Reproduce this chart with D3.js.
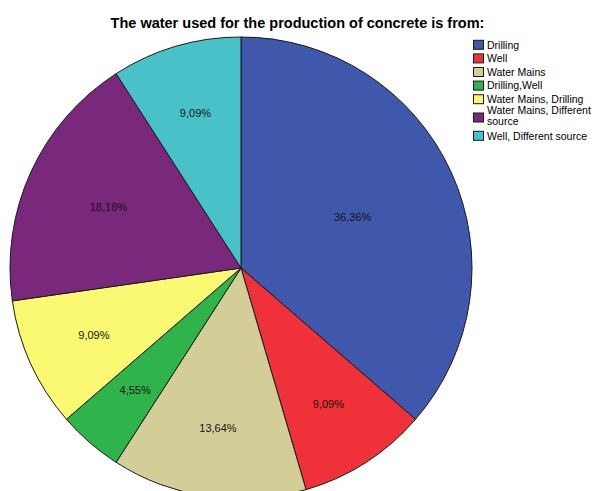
<!DOCTYPE html>
<html>
<head>
<meta charset="utf-8">
<script src="https://cdn.jsdelivr.net/npm/d3@7/dist/d3.min.js"></script>
<style>
  html, body { margin: 0; padding: 0; background: #fff; }
  svg { display: block; }
</style>
</head>
<body>
<svg id="chart" width="595" height="491"></svg>
<script>
// Source of water used for concrete production (number of responses)
const categories = [
  "Drilling",
  "Well",
  "Water Mains",
  "Drilling,Well",
  "Water Mains, Drilling",
  "Water Mains, Different source",
  "Well, Different source"
];
const counts = [8, 2, 3, 1, 2, 4, 2];
const colors = ["#3f58ac", "#ef3139", "#d3cd98", "#2fb34b", "#fbf872", "#7a287c", "#48c2c8"];
// Legend lines (long names wrap onto two lines)
const legendLines = [
  ["Drilling"],
  ["Well"],
  ["Water Mains"],
  ["Drilling,Well"],
  ["Water Mains, Drilling"],
  ["Water Mains, Different", "source"],
  ["Well, Different source"]
];
const title = "The water used for the production of concrete is from:";

const svg = d3.select("#chart");
const W = 595;
const cx = 241, cy = 268, R = 231;
const font = "'Liberation Sans', Arial, sans-serif";

svg.append("text")
  .attr("x", W / 2)
  .attr("y", 28)
  .attr("text-anchor", "middle")
  .attr("font-family", font)
  .attr("font-weight", "bold")
  .attr("font-size", 14.5)
  .attr("fill", "#000")
  .text(title);

const data = categories.map((c, i) => ({ name: c, value: counts[i], color: colors[i] }));
const total = d3.sum(counts);

const pie = d3.pie().value(d => d.value).sort(null).startAngle(0).endAngle(2 * Math.PI);
const arcs = pie(data);
const arc = d3.arc().innerRadius(0).outerRadius(R);

const g = svg.append("g").attr("transform", `translate(${cx},${cy})`);

g.selectAll("path.slice")
  .data(arcs)
  .join("path")
  .attr("class", "slice")
  .attr("d", arc)
  .attr("fill", d => d.data.color)
  .attr("stroke", "#1a1a1a")
  .attr("stroke-width", 1)
  .attr("stroke-linejoin", "round");

// Labels: wide slices use the sector's area centroid, narrower ones sit at 70% of the radius
const fmt = v => d3.format(".2f")(v).replace(".", ",") + "%";
g.selectAll("text.pct")
  .data(arcs)
  .join("text")
  .attr("class", "pct")
  .attr("transform", d => {
    const mid = (d.startAngle + d.endAngle) / 2;
    const half = (d.endAngle - d.startAngle) / 2;
    const centroid = 2 * R * Math.sin(half) / (3 * half);
    const dist = (2 * half) <= Math.PI / 3 ? Math.max(centroid, 0.7 * R) : centroid;
    return `translate(${dist * Math.sin(mid)},${-dist * Math.cos(mid)})`;
  })
  .attr("text-anchor", "middle")
  .attr("dy", "0.35em")
  .attr("font-family", font)
  .attr("font-size", 11)
  .attr("fill", "#141414")
  .text(d => fmt(d.data.value / total * 100));

// Legend
const legend = svg.append("g").attr("transform", "translate(473,38)");
let yy = 0;
legendLines.forEach((lines, i) => {
  const h = lines.length === 1 ? 13.6 : 23;
  const row = legend.append("g").attr("transform", `translate(0,${yy})`);
  row.append("rect")
    .attr("x", 0.5)
    .attr("y", h / 2 - 4.5)
    .attr("width", 10)
    .attr("height", 9)
    .attr("fill", colors[i])
    .attr("stroke", "#1a1a1a")
    .attr("stroke-width", 1);
  const t = row.append("text")
    .attr("font-family", font)
    .attr("font-size", 10.5)
    .attr("fill", "#000");
  lines.forEach((ln, j) => {
    t.append("tspan")
      .attr("x", 14)
      .attr("y", lines.length === 1 ? h / 2 + 3.8 : 8 + j * 10.5)
      .text(ln);
  });
  yy += h;
});
</script>
</body>
</html>
